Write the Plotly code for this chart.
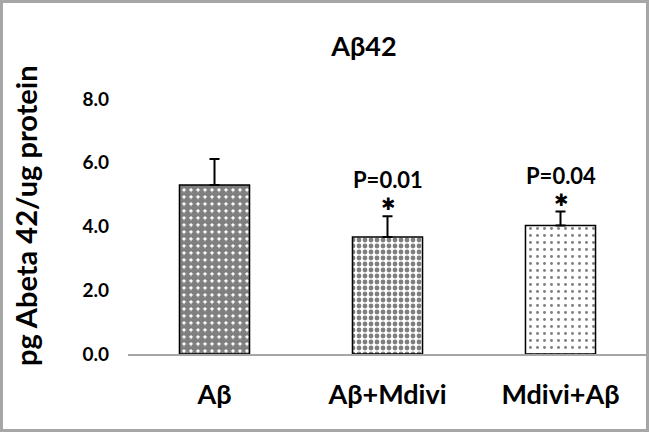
import plotly.graph_objects as go

categories = ["Aβ", "Aβ+Mdivi", "Mdivi+Aβ"]
means = [5.30, 3.67, 4.03]
errors_plus = [0.82, 0.65, 0.44]
p_labels = ["", "P=0.01", "P=0.04"]
y_ticks = [0, 2, 4, 6, 8]
y_tick_text = ["0.0", "2.0", "4.0", "6.0", "8.0"]
y_title = "pg Abeta 42/ug protein"

FONT = "Lato, 'Open Sans', sans-serif"

patterns = [
    dict(shape=".", fgcolor="black", bgcolor="white", size=7, solidity=0.8, fillmode="overlay"),
    dict(shape=".", fgcolor="black", bgcolor="white", size=6, solidity=0.5, fillmode="overlay"),
    dict(shape=".", fgcolor="black", bgcolor="white", size=7, solidity=0.14, fillmode="overlay"),
]

fig = go.Figure()
for i, c in enumerate(categories):
    fig.add_trace(go.Bar(
        x=[c], y=[means[i]],
        marker=dict(color="white", line=dict(color="black", width=1.5), pattern=patterns[i]),
        error_y=dict(type="data", symmetric=False, array=[errors_plus[i]], arrayminus=[0],
                     color="black", thickness=2, width=5),
        showlegend=False,
    ))

for i, c in enumerate(categories):
    if p_labels[i]:
        top = means[i] + errors_plus[i]
        fig.add_annotation(x=c, y=top, yref="y", text="✱", showarrow=False,
                           yanchor="bottom", yshift=0,
                           font=dict(family="DejaVu Sans", size=17, color="black"))
        fig.add_annotation(x=c, y=top, yref="y", text=p_labels[i], showarrow=False,
                           yanchor="bottom", yshift=21,
                           font=dict(family=FONT, size=22, color="black", weight="bold"))

L, R, T, B = 128, 2, 99, 78
W, H = 649, 432
pw, ph = W - L - R, H - T - B

fig.add_annotation(xref="paper", yref="paper", x=(25 - L) / pw, y=(H - B - 216) / ph,
                   text=y_title, textangle=-90, showarrow=False,
                   xanchor="center", yanchor="middle",
                   font=dict(family=FONT, size=29, color="black", weight="bold"))

fig.add_shape(type="rect", xref="paper", yref="paper",
              x0=(-L + 1.5) / pw, x1=(pw + R - 1.5) / pw,
              y0=(-B + 1.5) / ph, y1=(ph + T - 1.5) / ph,
              line=dict(color="#a6a6a6", width=3), layer="below")

fig.update_layout(
    width=W, height=H,
    margin=dict(l=L, r=R, t=T, b=B),
    paper_bgcolor="white", plot_bgcolor="white",
    bargap=0.595,
    title=dict(text="Aβ42", x=(364 - L) / pw, xref="paper", xanchor="center",
               y=1 - 47 / H, yanchor="middle",
               font=dict(family=FONT, size=27, color="black", weight="bold")),
    font=dict(family=FONT, color="black"),
)
fig.update_xaxes(showline=True, linecolor="#a6a6a6", linewidth=1.5, ticks="",
                 tickfont=dict(family=FONT, size=27, color="black", weight="bold"),
                 ticklabelstandoff=16, showgrid=False)
fig.update_yaxes(range=[0, 8], tickvals=y_ticks, ticktext=y_tick_text, showgrid=False,
                 zeroline=False, showline=False, ticks="",
                 tickfont=dict(family=FONT, size=19, color="black", weight="bold"),
                 ticklabelstandoff=18)

fig.write_html("out.html", config={"displayModeBar": False},
               post_script="document.body.style.margin='0';")
